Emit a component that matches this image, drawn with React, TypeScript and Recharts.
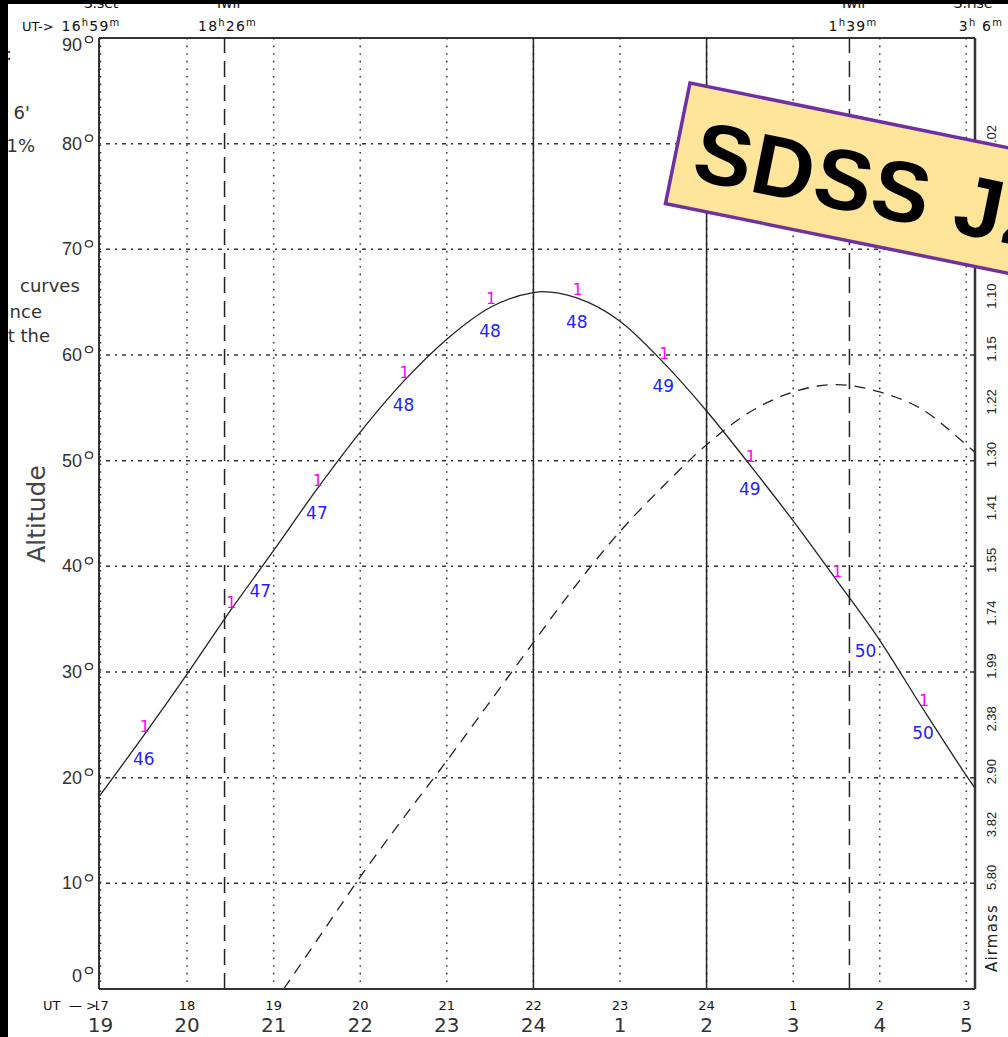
import React from 'react';
import { ComposedChart, Line, Scatter, XAxis, YAxis, CartesianGrid, ReferenceLine } from 'recharts';

// ---- data ----
const targetTimes = [16.983, 17.5, 18, 18.5, 19, 19.5, 20, 20.5, 21, 21.5, 22, 22.1, 22.5, 23, 23.5, 24, 24.5, 25, 25.5, 26, 26.5, 27, 27.1];
const targetAltitudes = [18.2, 24.0, 29.8, 35.8, 41.5, 47.3, 52.7, 57.5, 61.5, 64.5, 65.9, 66.0, 65.4, 63.2, 59.3, 54.7, 49.6, 44.3, 38.7, 33.0, 26.5, 20.2, 19.0];

const moonTimes = [19.116, 19.5, 20, 20.5, 21, 21.5, 22, 22.5, 23, 23.5, 24, 24.5, 25, 25.5, 26, 26.5, 27, 27.1];
const moonAltitudes = [0, 4.6, 10.6, 16.2, 21.6, 27.2, 32.8, 38.3, 43.3, 47.6, 51.5, 54.6, 56.5, 57.2, 56.5, 54.8, 51.5, 50.8];

const markerTimes = [17.5, 18.5, 19.5, 20.5, 21.5, 22.5, 23.5, 24.5, 25.5, 26.5];
const markerSymbols = ['1', '1', '1', '1', '1', '1', '1', '1', '1', '1'];
const moonDistances = [46, 47, 47, 48, 48, 48, 49, 49, 50, 50];

const utTicks = [17, 18, 19, 20, 21, 22, 23, 24, 25, 26, 27];
const altitudeTicks = [0, 10, 20, 30, 40, 50, 60, 70, 80, 90];
const airmassAltitudes = [10, 15, 20, 25, 30, 35, 40, 45, 50, 55, 60, 65, 70, 75, 80];
const airmassLabels = ['5.80', '3.82', '2.90', '2.38', '1.99', '1.74', '1.55', '1.41', '1.30', '1.22', '1.15', '1.10', '1.06', '1.04', '1.02'];

const twilightTimes = [18.433, 25.65];
const solidLineTimes = [22, 24];
const headerTimes = [16.983, 18.433, 25.65, 27.1];
const headerTitles = ['S.set', 'Twil', 'Twil', 'S.rise'];
const headerHours = ['16', '18', '1', '3'];
const headerMinutes = ['59', '26', '39', '\u00A06'];

const X_DOMAIN: [number, number] = [16.983, 27.1];

const targetData = targetTimes.map((t, i) => ({ t, alt: targetAltitudes[i] }));
const moonData = moonTimes.map((t, i) => ({ t, alt: moonAltitudes[i] }));
const markerData = markerTimes.map((t, i) => ({
  t,
  alt: targetAltitudes[targetTimes.indexOf(t)],
  sym: markerSymbols[i],
  dist: moonDistances[i],
}));

const SANS = "'DejaVu Sans', 'Liberation Sans', sans-serif";
const HELV = "'Liberation Sans', Arial, sans-serif";

function LeftTick(props: any) {
  const { y, payload } = props;
  const v = payload.value;
  const yy = v === 90 ? y + 7 : v === 0 ? y - 13 : y;
  return (
    <g>
      <text x={82} y={yy} textAnchor="end" dominantBaseline="central" fontFamily={HELV} fontSize={18} fill="#333">
        {v}
      </text>
      <ellipse cx={89} cy={yy - 5.5} rx={3.6} ry={3.2} fill="none" stroke="#333" strokeWidth={1.3} />
    </g>
  );
}

function AirmassLabel(props: any) {
  const { viewBox, text } = props;
  if (!viewBox) return null;
  const y = viewBox.y;
  const x = viewBox.x + viewBox.width;
  return (
    <text transform={`translate(${x + 21}, ${y - 6}) rotate(-90)`} textAnchor="middle" fontFamily={HELV} fontSize={13} fill="#222">
      {text}
    </text>
  );
}

function BottomTick(props: any) {
  const { x, payload } = props;
  const v = payload.value;
  const ut = v > 24 ? v - 24 : v;
  const local = v + 2 > 24 ? v + 2 - 24 : v + 2;
  return (
    <g>
      <text x={x} y={1010} textAnchor="middle" fontFamily={SANS} fontSize={13} fill="#111">
        {ut}
      </text>
      <text x={x} y={1032} textAnchor="middle" fontFamily={SANS} fontSize={20} fill="#333">
        {local}
      </text>
    </g>
  );
}

function HeaderLabel(props: any) {
  const { viewBox, title, hours, minutes, titleDx, timeDx } = props;
  if (!viewBox) return null;
  const x = viewBox.x;
  return (
    <g fontFamily={SANS} fill="#111">
      <text x={x + titleDx} y={8} textAnchor="middle" fontSize={14}>
        {title}
      </text>
      <text x={x + timeDx} y={31} textAnchor="middle" fontSize={14} letterSpacing={1.2}>
        {hours}
        <tspan dy={-5} fontSize={10}>h</tspan>
        <tspan dy={5}>{minutes}</tspan>
        <tspan dy={-5} fontSize={10}>m</tspan>
      </text>
    </g>
  );
}

const titleOffsets = [2, 3, 3, -2];
const timeOffsets = [-8, 3, 3.5, 6];

function MarkerShape(props: any) {
  const { cx, cy, payload } = props;
  if (cx == null || cy == null) return <g />;
  let nx = cx;
  let ny = cy + 30;
  if (payload.t === 18.5) {
    nx = cx + 30;
    ny = cy - 14;
  } else if (payload.t === 25.5) {
    nx = cx + 29;
    ny = cy + 77;
  }
  return (
    <g>
      <text x={cx + 1} y={cy - 3} textAnchor="middle" fontFamily={SANS} fontSize={16} fill="#ff00ff">
        {payload.sym}
      </text>
      <text x={nx} y={ny} textAnchor="middle" fontFamily={SANS} fontSize={17} fill="#2222ff">
        {payload.dist}
      </text>
    </g>
  );
}

export default function App() {
  return (
    <div
      style={{
        position: 'fixed',
        left: 0,
        top: 0,
        width: 1008,
        height: 1037,
        overflow: 'hidden',
        background: '#ffffff',
      }}
    >
      <ComposedChart width={1008} height={1037} margin={{ top: 38, right: 0, bottom: 0, left: 0 }}>
        <CartesianGrid
          xAxisId="x"
          yAxisId="left"
          vertical={false}
          stroke="#333"
          strokeWidth={1.5}
          strokeDasharray="2 5 4 5"
        />
        <CartesianGrid
          xAxisId="x"
          yAxisId="left"
          horizontal={false}
          stroke="#333"
          strokeWidth={1.5}
          strokeDasharray="1.6 6"
        />
        <XAxis
          xAxisId="x"
          dataKey="t"
          type="number"
          domain={X_DOMAIN}
          allowDataOverflow
          ticks={utTicks}
          interval={0}
          height={48}
          tickLine={false}
          axisLine={{ stroke: '#333', strokeWidth: 2 }}
          tick={(p: any) => <BottomTick {...p} />}
        />
        <YAxis
          yAxisId="left"
          type="number"
          domain={[0, 90]}
          ticks={altitudeTicks}
          interval={0}
          width={99}
          tickLine={false}
          axisLine={{ stroke: '#333', strokeWidth: 2 }}
          tick={(p: any) => <LeftTick {...p} />}
        />
        <YAxis
          yAxisId="right"
          orientation="right"
          type="number"
          domain={[0, 90]}
          width={33}
          tickLine={false}
          tick={false}
          axisLine={{ stroke: '#333', strokeWidth: 2.5 }}
        />
        <ReferenceLine xAxisId="x" yAxisId="left" y={90} stroke="#333" strokeWidth={2} />
        {airmassAltitudes.map((a, i) => (
          <ReferenceLine
            key={'am' + a}
            xAxisId="x"
            yAxisId="left"
            y={a}
            stroke="#000"
            strokeOpacity={0}
            label={<AirmassLabel text={airmassLabels[i]} />}
          />
        ))}
        {solidLineTimes.map((t) => (
          <ReferenceLine key={'s' + t} xAxisId="x" yAxisId="left" x={t} stroke="#222" strokeWidth={1.5} />
        ))}
        {twilightTimes.map((t) => (
          <ReferenceLine
            key={'tw' + t}
            xAxisId="x"
            yAxisId="left"
            x={t}
            stroke="#222"
            strokeWidth={1.5}
            strokeDasharray="16 8"
          />
        ))}
        {headerTimes.map((t, i) => (
          <ReferenceLine
            key={'h' + i}
            xAxisId="x"
            yAxisId="left"
            x={t}
            stroke="#000"
            strokeOpacity={0}
            ifOverflow="extendDomain"
            label={
              <HeaderLabel
                title={headerTitles[i]}
                hours={headerHours[i]}
                minutes={headerMinutes[i]}
                titleDx={titleOffsets[i]}
                timeDx={timeOffsets[i]}
              />
            }
          />
        ))}
        <Line
          xAxisId="x"
          yAxisId="left"
          data={moonData}
          dataKey="alt"
          type="monotone"
          stroke="#222"
          strokeWidth={1.3}
          strokeDasharray="11 8"
          dot={false}
          activeDot={false}
          isAnimationActive={false}
        />
        <Line
          xAxisId="x"
          yAxisId="left"
          data={targetData}
          dataKey="alt"
          type="monotone"
          stroke="#222"
          strokeWidth={1.3}
          dot={false}
          activeDot={false}
          isAnimationActive={false}
        />
        <Scatter
          xAxisId="x"
          yAxisId="left"
          data={markerData}
          dataKey="alt"
          shape={(p: any) => <MarkerShape {...p} />}
          isAnimationActive={false}
        />
      </ComposedChart>

      <svg
        width={1008}
        height={1037}
        style={{ position: 'absolute', left: 0, top: 0, pointerEvents: 'none' }}
      >
        {/* header prefix */}
        <text x={22} y={31} fontFamily={SANS} fontSize={13} fill="#111">UT</text>
        <text x={38} y={31} fontFamily={SANS} fontSize={13} fill="#111">-&gt;</text>
        {/* bottom prefix */}
        <text x={43} y={1010} fontFamily={SANS} fontSize={13} fill="#111">UT</text>
        <text x={69} y={1010} fontFamily={SANS} fontSize={13} fill="#111">—</text>
        <rect x={86} y={998} width={10} height={13} fill="#fff" />
        <text x={86} y={1010} fontFamily={SANS} fontSize={13} fill="#111">&gt;</text>

        {/* axis titles */}
        <text transform="translate(45, 514) rotate(-90)" textAnchor="middle" fontFamily={SANS} fontSize={25} fill="#444">
          Altitude
        </text>
        <text transform="translate(997, 938) rotate(-90)" textAnchor="middle" fontFamily={SANS} fontSize={15} letterSpacing={1.2} fill="#222">
          Airmass
        </text>

        {/* cut-off side panel text */}
        <g fontFamily={SANS} fontSize={18} fill="#333">
          <text x={12} y={60} textAnchor="end">:</text>
          <text x={30} y={119} textAnchor="end">6'</text>
          <text x={35} y={152} textAnchor="end">1%</text>
          <text x={20} y={292}>curves</text>
          <text x={42} y={318} textAnchor="end">distance</text>
          <text x={50} y={342} textAnchor="end">at the</text>
        </g>

        {/* annotation box */}
        <g transform="translate(690, 83) rotate(11.5)">
          <rect x={0} y={0} width={640} height={123} fill="#FFE59A" stroke="#7030A0" strokeWidth={3.5} />
          <text x={19} y={94} fontFamily={HELV} fontWeight="bold" fontSize={86} letterSpacing={1.5} fill="#000">
            SDSS J2256
          </text>
        </g>

        {/* black frame strips of the screenshot */}
        <rect x={0} y={0} width={1008} height={4} fill="#000" />
        <rect x={0} y={0} width={8} height={1037} fill="#000" />
      </svg>
    </div>
  );
}
